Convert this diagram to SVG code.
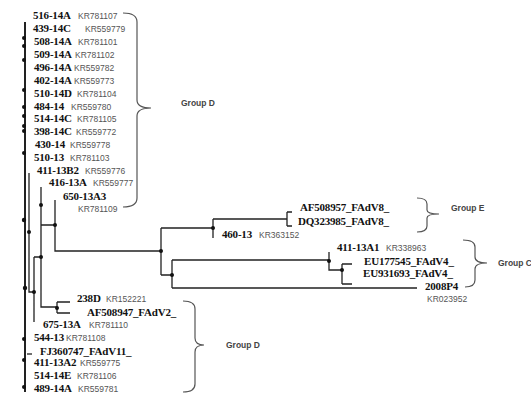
<svg xmlns="http://www.w3.org/2000/svg" width="531" height="396" viewBox="0 0 531 396">
<style>
.n{font-family:"Liberation Serif",serif;font-weight:bold;font-size:11px;letter-spacing:-0.2px;fill:#111}
.k{font-family:"Liberation Sans",sans-serif;font-size:8.5px;fill:#555}
.g{font-family:"Liberation Sans",sans-serif;font-weight:bold;font-size:8.5px;fill:#444}
.t{fill:none;stroke:#222;stroke-width:1.3}
.m{fill:none;stroke:#222;stroke-width:2}
.br{fill:none;stroke:#555;stroke-width:1.2}
.d{fill:#111}
</style>
<rect width="531" height="396" fill="#fff"/>
<g id="connectors">
<path class="m" d="M25,22V392"/>
<path class="t" d="M29,173V292H34M34,257V322M34,257H41M41,187V307H57M57,302V313M57,302H70M57,313H70"/>
<path class="t" d="M41,225H55M55,200V251H161M161,228V275M161,228H213M161,275H172"/>
<path class="t" d="M213,219V238M213,219H287M287,212V226M287,212H292M287,226H292"/>
<path class="t" d="M172,260V288M172,260H329M172,288H417M329,252V270H342M342,264V284M342,264H352M342,284H352"/>
<path class="t" d="M27,354H32"/>
<g class="d">
<circle cx="24" cy="38" r="2"/><circle cx="24" cy="46" r="2"/><circle cx="24" cy="60" r="2"/>
<circle cx="24" cy="90" r="2"/><circle cx="24" cy="107" r="2"/><circle cx="24" cy="116" r="2"/>
<circle cx="24" cy="126" r="2"/><circle cx="24" cy="131" r="2"/><circle cx="24" cy="153" r="2"/>
<circle cx="24" cy="220" r="2.2"/><circle cx="29" cy="232" r="2"/><circle cx="41" cy="205" r="2"/>
<circle cx="55" cy="225" r="2"/><circle cx="41" cy="257" r="2"/><circle cx="25" cy="288" r="2.2"/>
<circle cx="34" cy="292" r="2"/><circle cx="57" cy="308" r="2"/><circle cx="24" cy="339" r="2"/>
<circle cx="24" cy="360" r="2"/><circle cx="24" cy="387" r="2"/>
<circle cx="161" cy="251" r="2"/><circle cx="213" cy="228" r="2"/><circle cx="172" cy="275" r="2"/>
<circle cx="329" cy="261" r="2"/><circle cx="342" cy="270" r="2"/>
</g>
</g>
<g id="brace-d1"><path class="br" d="M123,13Q137,13 137,22V100Q137,108 151,108Q137,108 137,116V198Q137,207 123,207"/><text class="g" x="181" y="106">Group D</text></g>
<g id="brace-e"><path class="br" d="M417,198Q427,198 427,204V210Q427,214 439,214Q427,214 427,218V226Q427,232 417,232"/><text class="g" x="451" y="211">Group E</text></g>
<g id="brace-c"><path class="br" d="M463,240Q475,240 475,247V257Q475,263 487,263Q475,263 475,269V280Q475,287 465,287"/><text class="g" x="498" y="266">Group C</text></g>
<g id="brace-d2"><path class="br" d="M183,301Q195,301 195,309V338Q195,345 204,345Q195,345 195,352V384Q195,392 183,392"/><text class="g" x="226" y="348">Group D</text></g>
<g id="n516"><text class="n" x="33" y="19">516-14A</text><text class="k" x="78" y="19">KR781107</text></g>
<g id="n439"><text class="n" x="33" y="32">439-14C</text><text class="k" x="85" y="32">KR559779</text></g>
<g id="n508"><text class="n" x="34" y="45">508-14A</text><text class="k" x="78" y="45">KR781101</text></g>
<g id="n509"><text class="n" x="34" y="58">509-14A</text><text class="k" x="75" y="58">KR781102</text></g>
<g id="n496"><text class="n" x="34" y="71">496-14A</text><text class="k" x="74" y="71">KR559782</text></g>
<g id="n402"><text class="n" x="34" y="84">402-14A</text><text class="k" x="74" y="84">KR559773</text></g>
<g id="n510d"><text class="n" x="34" y="97">510-14D</text><text class="k" x="77" y="97">KR781104</text></g>
<g id="n484"><text class="n" x="34" y="110">484-14</text><text class="k" x="71" y="110">KR559780</text></g>
<g id="n514c"><text class="n" x="34" y="122">514-14C</text><text class="k" x="77" y="122">KR781105</text></g>
<g id="n398"><text class="n" x="34" y="135">398-14C</text><text class="k" x="76" y="135">KR559772</text></g>
<g id="n430"><text class="n" x="35" y="148">430-14</text><text class="k" x="70" y="148">KR559778</text></g>
<g id="n510"><text class="n" x="34" y="161">510-13</text><text class="k" x="70" y="161">KR781103</text></g>
<g id="n411b2"><text class="n" x="37" y="174">411-13B2</text><text class="k" x="85" y="174">KR559776</text></g>
<g id="n416"><text class="n" x="49" y="186">416-13A</text><text class="k" x="93" y="186">KR559777</text></g>
<g id="n650"><text class="n" x="63" y="200">650-13A3</text><text class="k" x="78" y="212">KR781109</text></g>
<g id="nAF8"><text class="n" x="300" y="211">AF508957_FAdV8_</text></g>
<g id="nDQ8"><text class="n" x="298" y="225">DQ323985_FAdV8_</text></g>
<g id="n460"><text class="n" x="222" y="238">460-13</text><text class="k" x="259" y="238">KR363152</text></g>
<g id="n411a1"><text class="n" x="337" y="251">411-13A1</text><text class="k" x="386" y="251">KR338963</text></g>
<g id="nEU1"><text class="n" x="364" y="265">EU177545_FAdV4_</text></g>
<g id="nEU9"><text class="n" x="363" y="277">EU931693_FAdV4_</text></g>
<g id="n2008"><text class="n" x="425" y="290">2008P4</text><text class="k" x="427" y="302">KR023952</text></g>
<g id="n238"><text class="n" x="77" y="302">238D</text><text class="k" x="106" y="302">KR152221</text></g>
<g id="nAF2"><text class="n" x="87" y="316">AF508947_FAdV2_</text></g>
<g id="n675"><text class="n" x="43" y="328">675-13A</text><text class="k" x="89" y="328">KR781110</text></g>
<g id="n544"><text class="n" x="34" y="341">544-13</text><text class="k" x="66" y="341">KR781108</text></g>
<g id="nFJ"><text class="n" x="40" y="355">FJ360747_FAdV11_</text></g>
<g id="n411a2"><text class="n" x="34" y="366">411-13A2</text><text class="k" x="80" y="366">KR559775</text></g>
<g id="n514e"><text class="n" x="34" y="379">514-14E</text><text class="k" x="77" y="379">KR781106</text></g>
<g id="n489"><text class="n" x="34" y="392">489-14A</text><text class="k" x="78" y="392">KR559781</text></g>
</svg>
